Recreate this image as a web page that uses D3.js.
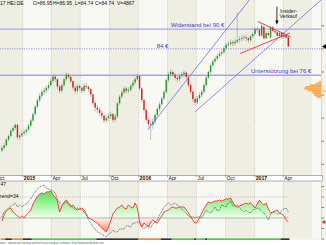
<!DOCTYPE html>
<html><head><meta charset="utf-8">
<script src="https://cdn.jsdelivr.net/npm/d3@7"></script>
<style>html,body{margin:0;padding:0;background:#fff;overflow:hidden}svg{display:block;font-family:"Liberation Sans",Arial,sans-serif}</style>
</head><body><svg id="c" width="326" height="245"></svg>
<script>
// ---------- DATA ----------
const firstWeek = "2014-10-27";
const weekOpen = [53.2,54.0,54.8,56.5,57.6,59.2,60.0,61.0,57.2,57.8,
58.4,58.9,59.5,60.8,62.3,64.2,66.5,68.4,69.8,70.9,
71.4,72.2,73.0,74.3,75.6,74.8,72.6,71.3,73.0,74.8,
76.2,75.5,74.2,72.3,71.2,72.8,72.2,71.3,72.8,72.5,
71.8,70.2,67.6,66.2,65.6,64.6,63.8,62.3,63.0,63.6,
64.2,62.5,63.5,67.5,69.5,70.8,72.0,71.3,71.6,72.8,
73.8,74.8,75.8,72.0,68.5,65.5,62.5,61.2,61.0,62.0,
64.0,65.8,67.2,69.0,70.9,74.5,76.3,77.0,76.2,75.2,
74.8,75.8,76.3,76.8,75.5,73.0,71.0,68.8,67.8,69.0,
70.0,71.0,73.0,75.3,77.0,79.0,80.2,81.0,81.8,82.5,
83.0,84.2,85.2,85.5,86.0,85.7,86.2,86.7,87.0,87.3,
87.5,87.2,86.6,87.8,88.5,90.0,89.8,88.0,90.6,87.2,
88.8,87.5,90.5,89.4,89.0,87.9,88.8,87.6,88.2,87.5];
const weekHigh = [54.6,55.5,57.0,58.2,59.8,60.7,61.5,61.3,58.5,59.2,
59.6,60.2,61.4,62.9,64.8,67.0,69.0,70.5,71.6,72.3,
72.9,73.8,75.0,76.4,76.2,75.0,73.2,73.6,75.3,76.9,
76.6,75.9,74.5,72.8,73.4,73.3,72.6,73.5,73.6,73.0,
72.1,70.5,68.2,67.0,66.2,65.3,64.2,63.8,64.5,65.0,
64.6,64.3,68.0,70.1,71.5,72.7,72.6,72.4,73.4,74.5,
75.5,76.5,76.0,72.3,69.0,66.0,63.3,62.5,63.0,64.6,
66.5,67.9,69.6,71.5,75.0,76.9,77.8,77.6,76.8,75.9,
76.4,77.0,77.6,77.2,75.9,73.4,71.6,69.4,69.7,70.8,
71.8,73.6,75.9,77.6,79.6,80.9,81.7,82.5,83.2,83.8,
84.9,85.8,86.3,86.8,86.6,87.0,95.0,87.8,88.1,88.3,
88.2,87.7,88.4,89.2,90.6,90.8,90.4,91.6,91.2,89.4,
89.4,91.0,91.0,90.0,89.4,89.3,89.2,88.7,88.6,88.0];
const weekLow = [52.6,53.5,54.4,56.0,57.2,58.6,59.4,56.6,56.4,57.3,
57.5,58.0,58.9,60.2,61.8,63.8,66.0,67.8,69.0,70.0,
70.6,71.5,72.4,73.8,74.0,71.8,70.5,70.8,72.5,74.2,
74.8,73.6,71.6,70.4,70.8,71.5,70.5,70.9,71.8,71.0,
69.5,66.8,65.0,64.5,63.5,62.8,61.4,61.5,62.2,62.8,
61.6,61.8,63.0,67.0,68.9,70.2,70.5,70.6,71.0,72.2,
73.2,74.3,71.3,67.8,64.6,61.8,60.2,56.4,59.8,61.2,
63.2,65.0,66.6,68.5,70.4,73.8,75.6,75.5,74.4,73.9,
74.0,75.1,75.7,74.8,72.3,70.2,67.9,66.8,67.2,68.4,
69.4,70.5,72.6,74.8,76.5,78.4,79.6,80.3,81.2,81.9,
82.4,83.6,84.6,84.9,84.8,85.0,85.6,85.9,86.2,86.5,
86.3,85.8,86.0,87.2,88.0,89.0,87.6,87.5,86.8,86.9,
87.6,87.0,89.0,88.4,87.4,87.5,87.2,87.1,87.0,84.7];
const weekClose = [54.0,54.8,56.5,57.6,59.2,60.0,61.0,57.2,57.8,58.4,
58.9,59.5,60.8,62.3,64.2,66.5,68.4,69.8,70.9,71.4,
72.2,73.0,74.3,75.6,74.8,72.6,71.3,73.0,74.8,76.2,
75.5,74.2,72.3,71.2,72.8,72.2,71.3,72.8,72.5,71.8,
70.2,67.6,66.2,65.6,64.6,63.8,62.3,63.0,63.6,64.2,
62.5,63.5,67.5,69.5,70.8,72.0,71.3,71.6,72.8,73.8,
74.8,75.8,72.0,68.5,65.5,62.5,61.2,61.0,62.0,64.0,
65.8,67.2,69.0,70.9,74.5,76.3,77.0,76.2,75.2,74.8,
75.8,76.3,76.8,75.5,73.0,71.0,68.8,67.8,69.0,70.0,
71.0,73.0,75.3,77.0,79.0,80.2,81.0,81.8,82.5,83.0,
84.2,85.2,85.5,86.0,85.7,86.2,86.7,87.0,87.3,87.5,
87.2,86.6,87.8,88.5,90.0,89.8,88.0,91.0,87.2,88.8,
88.2,90.5,89.4,89.0,87.9,88.8,87.6,88.2,87.4,84.74];

// indicator panel (red trend line, black dotted line)
const trendLine = [47.1,52.9,56.7,58.6,59.5,55.7,53.8,51.9,50.0,51.9,
50.0,52.9,54.8,57.6,63.3,67.1,70.9,72.8,73.8,72.8,
74.8,74.8,75.7,71.9,70.0,66.2,55.7,61.4,65.2,67.1,
64.3,60.5,62.4,59.5,57.6,58.6,59.5,57.6,53.8,50.0,
49.0,48.1,46.2,45.2,42.4,40.5,38.6,36.7,41.4,47.1,
53.8,56.7,59.5,60.5,62.4,59.5,58.6,62.4,60.5,59.5,
64.3,59.5,46.2,41.4,45.2,43.3,41.4,46.2,48.1,46.2,
45.2,49.0,51.9,55.7,56.7,57.6,59.5,60.5,59.5,59.5,
60.5,60.5,60.5,57.6,54.8,51.0,48.1,45.2,46.2,50.0,
54.8,58.6,62.4,65.2,64.3,65.2,66.2,66.2,67.1,66.2,
67.1,68.1,68.1,69.0,65.2,61.4,60.5,61.4,62.4,63.3,
64.3,63.3,64.3,62.4,59.5,63.3,67.1,64.3,62.4,64.3,
58.6,54.8,55.7,56.7,57.6,54.8,53.8,51.9,48.1,46.2];
const dottedLine = [51.0,55.7,57.6,59.5,61.4,62.4,64.3,60.5,62.4,60.5,
62.4,63.3,66.2,68.1,71.9,74.8,77.6,79.5,80.5,81.4,
78.6,77.6,76.7,75.7,73.8,68.1,64.3,62.4,64.3,65.2,
63.3,62.4,59.5,57.6,59.5,58.6,57.6,55.7,52.9,48.1,
45.2,41.4,39.5,36.7,35.7,34.8,32.9,31.9,34.8,35.7,
38.6,36.7,36.7,39.5,39.5,39.5,42.4,42.4,41.4,45.2,
45.2,46.2,45.2,41.4,39.5,42.4,42.4,40.5,44.3,46.2,
48.1,52.9,56.7,60.5,62.4,64.3,62.4,63.3,64.3,62.4,
60.5,58.6,56.7,54.8,51.9,51.0,51.0,50.0,51.0,51.0,
50.0,53.8,57.6,55.7,54.8,57.6,60.5,56.7,57.6,62.4,
61.4,60.5,64.3,66.2,61.4,61.4,62.4,59.5,57.6,55.7,
57.6,55.7,54.8,57.6,58.6,59.5,58.6,56.7,54.8,51.9,
48.1,53.8,54.8,55.7,53.8,53.8,57.6,58.6,59.5,55.7];
const indMid = 50, indUpper = 70;

// state bar segments: [first week, last week (excl.), state]
const stateSegStart = [0,2,5,10,14,43,62,72,77,87,88,92,93,126];
const stateSegEnd   = [2,5,10,14,43,62,72,77,87,88,92,93,126,130];
const stateSegKind  = ["o","b","o","b","g","b","o","b","g","b","g","b","g","b"];

// horizontal levels and labels
const levelPrices = [90, 84, 76];
const levelLabels = ["Widerstand bei 90 €", "84 €", "Unterstützung bei 76 €"];
const levelLabelDates = ["2016-04-12", "2016-02-27", "2016-12-20"];

// trend channel lines [date0, price0, date1, price1]
const channelLines = [
  ["2016-01-30", 59.5, "2016-12-15", 98.8],
  ["2016-06-27", 64.9, "2017-07-29", 98.8]
];
// red triangle
const triangleLines = [
  ["2017-01-11", 92.3, "2017-04-25", 87.6],
  ["2016-11-16", 82.6, "2017-04-22", 88.8]
];

// volume profile (price level, volume)
const vpPrice  = [75.5,75.0,74.5,74.0,73.5,73.0,72.5,72.0,71.5,71.0,70.5,70.0,69.5,69.0,68.5];
const vpVolume = [12,24,32,40,52,72,88,92,80,64,60,56,48,32,16];

const header = ["17 HEI.DE", "O=86.95", "H=86.95", "L=84.74", "C=84.74", "V=4867"];
const priceTicks = [91, 84, 77, 70, 63, 56, 49];
const indTicks = [80, 70, 60, 50, 40, 30];

// ---------- DRAW ----------
const svg = d3.select('#c');
const plotR = 321, mainB = 175.5, indT = 181.5, indB = 238.2;
const parse = d3.timeParse("%Y-%m-%d");
const x = d3.scaleTime().domain([new Date(2014,9,21), new Date(2017,6,29)]).range([0, plotR]);
const start = parse(firstWeek);
const dates = weekClose.map((_, i) => d3.timeDay.offset(start, 7 * i));
const y = d3.scaleLinear().domain([47.3, 98.8]).range([170, 0]);
const yI = d3.scaleLinear().domain([30, 70]).range([239, 197]);
const xVol = d3.scaleLinear().domain([0, 100]).range([330, 302]);

const defs = svg.append('defs');
defs.append('clipPath').attr('id','cm').append('rect').attr('x',0).attr('y',0).attr('width',plotR).attr('height',mainB);
defs.append('clipPath').attr('id','ci').append('rect').attr('x',0).attr('y',indT).attr('width',plotR).attr('height',indB-indT);
defs.append('clipPath').attr('id','cup').append('rect').attr('x',0).attr('y',indT).attr('width',plotR).attr('height',yI(indMid)-indT);
defs.append('clipPath').attr('id','cdn').append('rect').attr('x',0).attr('y',yI(indMid)).attr('width',plotR).attr('height',indB-yI(indMid));
const gg = defs.append('linearGradient').attr('id','gG').attr('gradientUnits','userSpaceOnUse').attr('x1',0).attr('x2',0).attr('y1',yI(78)).attr('y2',yI(indMid));
gg.append('stop').attr('offset',0).attr('stop-color','#3ee83e');
gg.append('stop').attr('offset',1).attr('stop-color','#f2fff0');
const gr = defs.append('linearGradient').attr('id','gR').attr('gradientUnits','userSpaceOnUse').attr('x1',0).attr('x2',0).attr('y1',yI(indMid)).attr('y2',yI(34));
gr.append('stop').attr('offset',0).attr('stop-color','#fff4ee');
gr.append('stop').attr('offset',1).attr('stop-color','#ff7a50');

// page background
svg.append('rect').attr('width',326).attr('height',245).attr('fill','#f4f3ea');
svg.append('rect').attr('y',240).attr('width',326).attr('height',5).attr('fill','#fff');

// quarter bands
const quarters = d3.timeMonth.every(3).range(new Date(2014,6,1), new Date(2017,9,1));
const bandG = svg.append('g');
[[0,mainB,'cm'],[indT,indB,'ci']].forEach(([t,b,c]) => {
  bandG.append('g').attr('clip-path',`url(#${c})`).selectAll('rect').data(quarters).join('rect')
    .attr('x', d => x(d)).attr('width', d => x(d3.timeMonth.offset(d,3)) - x(d))
    .attr('y', t).attr('height', b - t)
    .attr('fill', d => d.getMonth() % 6 === 0 ? '#f9f9f4' : '#efeee2');
});

// vertical grid
const ticks = d3.timeMonth.every(3).range(new Date(2014,9,1), new Date(2017,5,1));
[[0,mainB],[indT,indB]].forEach(([t,b]) => {
  svg.append('g').selectAll('line').data(ticks).join('line')
    .attr('x1', d => x(d)).attr('x2', d => x(d)).attr('y1', t).attr('y2', b)
    .attr('stroke','#b8b8b0').attr('stroke-width',0.6).attr('stroke-dasharray','1,1');
});

const main = svg.append('g').attr('clip-path','url(#cm)');

// volume profile
main.append('g').selectAll('rect').data(vpPrice).join('rect')
  .attr('x', (p,i) => xVol(vpVolume[i])).attr('width', (p,i) => 330 - xVol(vpVolume[i]))
  .attr('y', p => y(p + 0.25)).attr('height', p => y(p - 0.25) - y(p + 0.25) + 0.2)
  .attr('fill','#f9aa55');

// horizontal levels
levelPrices.forEach((p,i) => {
  main.append('line').attr('x1',0).attr('x2',plotR).attr('y1',y(p)).attr('y2',y(p))
    .attr('stroke', i === 1 ? '#6a6ae6' : '#a4a4f4')
    .attr('stroke-width', i === 1 ? 0.7 : 1.3)
    .attr('stroke-dasharray', i === 1 ? '1.2,1.2' : null);
  main.append('text').attr('x', x(parse(levelLabelDates[i]))).attr('y', y(p) - (i === 1 ? 0.9 : 1.8))
    .attr('font-size', 6).attr('fill','#3a3ad6').text(levelLabels[i]);
});

// candles
const cw = 1.4;
const cg = main.append('g');
cg.selectAll('line').data(dates).join('line')
  .attr('x1', d => x(d)).attr('x2', d => x(d))
  .attr('y1', (d,i) => y(weekHigh[i])).attr('y2', (d,i) => y(weekLow[i]))
  .attr('stroke','#9a9a9a').attr('stroke-width',0.6);
cg.selectAll('rect').data(dates).join('rect')
  .attr('x', d => x(d) - cw/2).attr('width', cw)
  .attr('y', (d,i) => y(Math.max(weekOpen[i], weekClose[i])))
  .attr('height', (d,i) => Math.max(0.6, Math.abs(y(weekOpen[i]) - y(weekClose[i]))))
  .attr('fill', (d,i) => weekClose[i] >= weekOpen[i] ? '#1f9a2a' : '#dc1c1c');

// channel lines
main.append('g').selectAll('line').data(channelLines).join('line')
  .attr('x1', d => x(parse(d[0]))).attr('y1', d => y(d[1]))
  .attr('x2', d => x(parse(d[2]))).attr('y2', d => y(d[3]))
  .attr('stroke','#7070ee').attr('stroke-width',0.8);
// triangle
main.append('g').selectAll('line').data(triangleLines).join('line')
  .attr('x1', d => x(parse(d[0]))).attr('y1', d => y(d[1]))
  .attr('x2', d => x(parse(d[2]))).attr('y2', d => y(d[3]))
  .attr('stroke','#ff2a2a').attr('stroke-width',0.9);

// insider arrow + label
const ax = x(parse("2017-03-12"));
main.append('line').attr('x1',ax).attr('x2',ax).attr('y1',y(96.8)).attr('y2',y(92.2)).attr('stroke','#000').attr('stroke-width',0.8);
main.append('path').attr('d',`M${ax-1.6},${y(92.6)}L${ax+1.6},${y(92.6)}L${ax},${y(91.3)}Z`).attr('fill','#000');
main.append('text').attr('x', ax + 3).attr('y', y(95.0)).attr('font-size',5.2).attr('fill','#222').text('Insider-');
main.append('text').attr('x', ax + 2.5).attr('y', y(93.4)).attr('font-size',5.2).attr('fill','#222').text('Verkauf');

// header
const hx = [0, 33, 53, 75, 95, 117];
header.forEach((t,i) => main.append('text').attr('x',hx[i]).attr('y',4.6).attr('font-size',5).attr('fill','#111').text(t));

// right axis
svg.append('line').attr('x1',plotR+0.5).attr('x2',plotR+0.5).attr('y1',0).attr('y2',mainB).attr('stroke','#bbb').attr('stroke-width',0.5);
svg.append('g').selectAll('line').data(priceTicks).join('line')
  .attr('x1',plotR+0.5).attr('x2',plotR+3).attr('y1',p=>y(p)).attr('y2',p=>y(p)).attr('stroke','#333').attr('stroke-width',0.6);
svg.append('path').attr('d',`M${plotR+1},${y(weekClose[129])}L326,${y(weekClose[129])-2.5}L326,${y(weekClose[129])+2.5}Z`).attr('fill','#000');
svg.append('rect').attr('x',plotR+1.5).attr('y',y(71.4)).attr('width',3.5).attr('height',1.2).attr('fill','#f9aa55');

// x axis strip
svg.append('rect').attr('x',0).attr('y',mainB).attr('width',plotR+1.5).attr('height',5.5).attr('fill','#fff').attr('stroke','#666').attr('stroke-width',0.5);
const xl = svg.append('g');
xl.selectAll('line').data(ticks).join('line').attr('x1',d=>x(d)).attr('x2',d=>x(d)).attr('y1',mainB).attr('y2',mainB+1.8).attr('stroke','#555').attr('stroke-width',0.5);
const lbl = d => d.getMonth() === 0 ? d3.timeFormat('%Y')(d) : d3.timeFormat('%b')(d);
xl.selectAll('text').data(ticks).join('text')
  .attr('x', d => Math.max(0.3, x(d) + 1)).attr('y', mainB + 4.9).attr('font-size', 5.2)
  .attr('font-weight', d => d.getMonth() === 0 ? 'bold' : 'normal').attr('fill','#111')
  .text(d => x(d) + 1 < 0 ? lbl(d).slice(1) : lbl(d));

// indicator panel
const ind = svg.append('g').attr('clip-path','url(#ci)');
const area = d3.area().x((d,i) => x(dates[i])).y0(yI(indMid)).y1(d => yI(d));
ind.append('path').datum(trendLine).attr('d',area).attr('fill','url(#gG)').attr('clip-path','url(#cup)');
ind.append('path').datum(trendLine).attr('d',area).attr('fill','url(#gR)').attr('clip-path','url(#cdn)');
const lastX = x(dates[dates.length-1]);
ind.append('line').attr('x1',0).attr('x2',lastX).attr('y1',yI(indMid)).attr('y2',yI(indMid)).attr('stroke','#999').attr('stroke-width',0.7);
ind.append('line').attr('x1',0).attr('x2',lastX).attr('y1',yI(indUpper)).attr('y2',yI(indUpper)).attr('stroke','#aaa').attr('stroke-width',0.6).attr('stroke-dasharray','1,1');
const line = d3.line().x((d,i) => x(dates[i])).y(d => yI(d));
ind.append('path').datum(dottedLine).attr('d',line).attr('fill','none').attr('stroke','#222').attr('stroke-width',0.6).attr('stroke-dasharray','1,0.7');
ind.append('path').datum(trendLine).attr('d',line).attr('fill','none').attr('stroke','#ff3030').attr('stroke-width',0.9);
ind.append('text').attr('x',0.5).attr('y',indT+4.5).attr('font-size',5).attr('fill','#111').text('47');
ind.append('text').attr('x',0).attr('y',yI(indUpper)+1).attr('font-size',5).attr('fill','#111').text('rend=34');

svg.append('line').attr('x1',plotR+0.5).attr('x2',plotR+0.5).attr('y1',indT).attr('y2',indB).attr('stroke','#bbb').attr('stroke-width',0.5);
svg.append('g').selectAll('line').data(indTicks).join('line')
  .attr('x1',plotR+0.5).attr('x2',plotR+3).attr('y1',v=>yI(v)).attr('y2',v=>yI(v)).attr('stroke','#333').attr('stroke-width',0.6);
svg.append('circle').attr('cx',plotR+3).attr('cy',yI(trendLine[129])).attr('r',1.6).attr('fill','#ff2020');

// state bar
const stateColor = {g:'#2fcf2f', o:'#f07a30', b:'#222'};
const step = x(dates[1]) - x(dates[0]);
svg.append('g').selectAll('rect').data(stateSegStart).join('rect')
  .attr('x', (s,i) => x(dates[s]) - step/2)
  .attr('width', (s,i) => (stateSegEnd[i] - s) * step)
  .attr('y', 238.4).attr('height', 1.5)
  .attr('fill', (s,i) => stateColor[stateSegKind[i]]);

svg.append('text').attr('x',0).attr('y',244.3).attr('font-size',2.8).attr('fill','#666')
  .text('oker - advanced charting and technical analysis software. http://www.amibroker.com');
</script></body></html>
